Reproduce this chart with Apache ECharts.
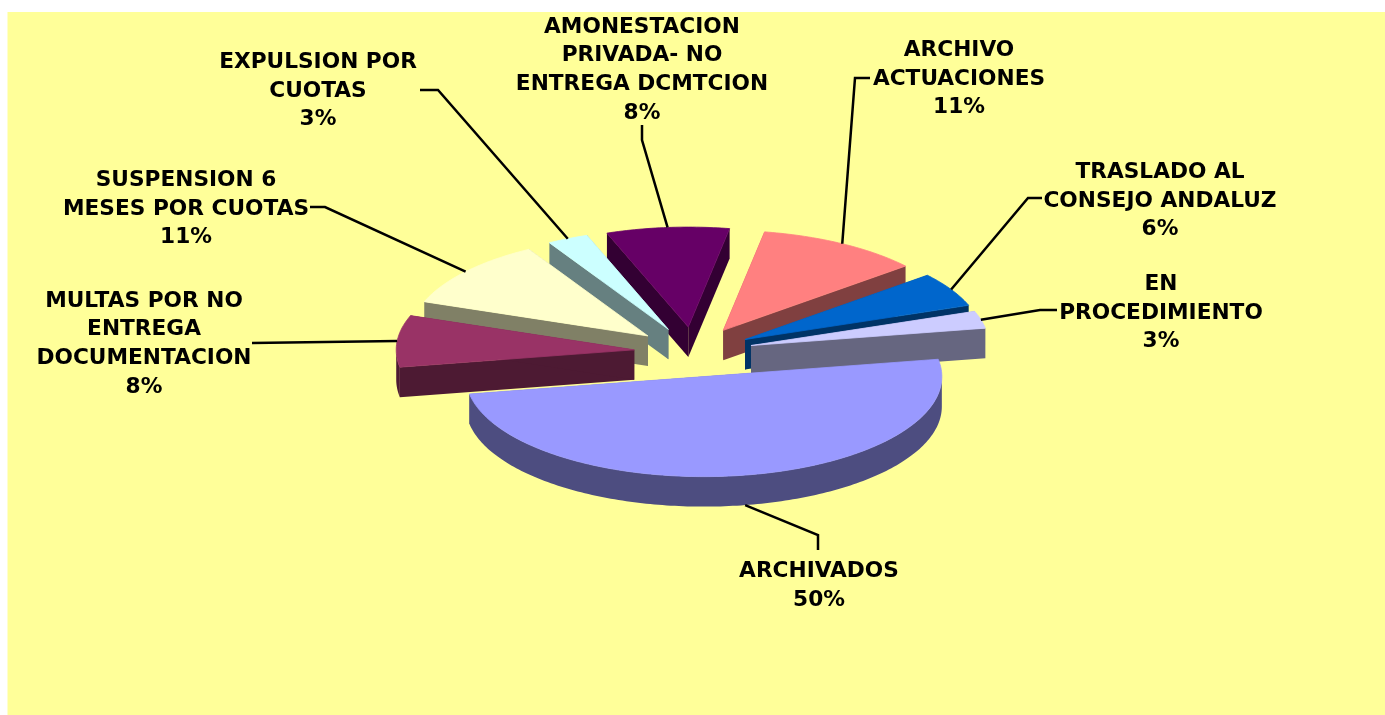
<!DOCTYPE html>
<html>
<head>
<meta charset="utf-8">
<style>html,body{margin:0;padding:0;background:#fff}#c{width:1385px;height:715px}</style>
<script src="https://cdn.jsdelivr.net/npm/echarts@6/dist/echarts.min.js"></script>
</head>
<body>
<div id="c"></div>
<script>
// Data (case counts, pie order clockwise from the front slice)
const categories = ['ARCHIVADOS','MULTAS POR NO\nENTREGA\nDOCUMENTACION','SUSPENSION 6\nMESES POR CUOTAS','EXPULSION POR\nCUOTAS','AMONESTACION\nPRIVADA- NO\nENTREGA DCMTCION','ARCHIVO\nACTUACIONES','TRASLADO AL\nCONSEJO ANDALUZ','EN\nPROCEDIMIENTO'];
const counts = [18,3,4,1,3,4,2,1];

// Styles
const topColors  = ['#9999FF','#993366','#FFFFCC','#CCFFFF','#660066','#FF8080','#0066CC','#CCCCFF'];
const wallColors = ['#4D4D80','#4D1A33','#808066','#668080','#330033','#804040','#003366','#666680'];

// Layout: pie projection and label placement
const pie = {cx:693.5, cy:352, rx:238, ry:100, depth:30, explode:0.25, startDeg:-10};
const labelCenters = [[819,586],[144,344],[186,209],[318,91],[642,70],[959,79],[1160,201],[1161,313]];
const leaderBends = [
  [[818,535],[818,550]],
  [[252,343]],
  [[325,207],[310,207]],
  [[438,90],[420,90]],
  [[642,140],[642,125]],
  [[855,78],[870,78]],
  [[1028,198],[1042,198]],
  [[1040,310],[1057,310]]
];
const font = 'bold 21.7px "DejaVu Sans", Verdana, sans-serif';
const lineH = 28.6;

const total = counts.reduce((a,b)=>a+b,0);
const rad = d => d*Math.PI/180;

function renderItem(params, api){
  const v = api.value(0), idx = params.dataIndex;
  let before = 0;
  for(let i=0;i<idx;i++) before += counts[i];
  const a0 = pie.startDeg + before/total*360;
  const a1 = a0 + v/total*360;
  const mid = (a0+a1)/2;
  const ax = pie.cx + pie.explode*pie.rx*Math.cos(rad(mid));
  const ay = pie.cy + pie.explode*pie.ry*Math.sin(rad(mid));
  const P = (d,dz)=>[ax+pie.rx*Math.cos(rad(d)), ay+pie.ry*Math.sin(rad(d))+(dz||0)];
  const arc = [];
  const steps = Math.round(a1-a0);
  for(let s=0;s<=steps;s++) arc.push(a0+(a1-a0)*s/steps);
  const front = arc.filter(d=>Math.sin(rad(d))>=-1e-6);
  const z = Math.round((Math.sin(rad(mid))+1)*100)*3+10;
  const wall = c => ({type:'polygon',z2:z,silent:true,shape:{points:c},style:{fill:wallColors[idx],stroke:null,lineWidth:0}});
  const D = pie.depth;
  const children = [
    wall([[ax,ay],P(a0),P(a0,D),[ax,ay+D]]),
    wall([[ax,ay],P(a1),P(a1,D),[ax,ay+D]])
  ];
  if(front.length>1) children.push(wall(front.map(d=>P(d)).concat(front.slice().reverse().map(d=>P(d,D)))));
  children.push({type:'polygon',z2:z+1,silent:true,shape:{points:[[ax,ay]].concat(arc.map(d=>P(d)))},style:{fill:topColors[idx],stroke:topColors[idx],lineWidth:0.8}});
  const onFront = Math.sin(rad(mid))>0;
  const start = P(mid, onFront?D:0);
  children.push({type:'polyline',z2:1000,silent:true,shape:{points:[start].concat(leaderBends[idx])},style:{fill:null,stroke:'#000',lineWidth:2.5}});
  const pct = (v/total*100).toFixed(0)+'%';
  children.push({type:'text',z2:1001,silent:true,style:{
    text:categories[idx]+'\n'+pct,x:labelCenters[idx][0],y:labelCenters[idx][1],
    align:'center',verticalAlign:'middle',font:font,lineHeight:lineH,fill:'#000'}});
  return {type:'group',children};
}

const chart = echarts.init(document.getElementById('c'),null,{renderer:'canvas'});
chart.setOption({
  animation:false,
  backgroundColor:'#fff',
  graphic:[{type:'rect',z:-1,silent:true,shape:{x:7.5,y:12,width:1378,height:703},style:{fill:'#FFFF99'}}],
  series:[{type:'custom',coordinateSystem:'none',renderItem,silent:true,
    data:counts.map((c,i)=>({value:[c,i],name:categories[i]}))}]
});
</script>
</body>
</html>
